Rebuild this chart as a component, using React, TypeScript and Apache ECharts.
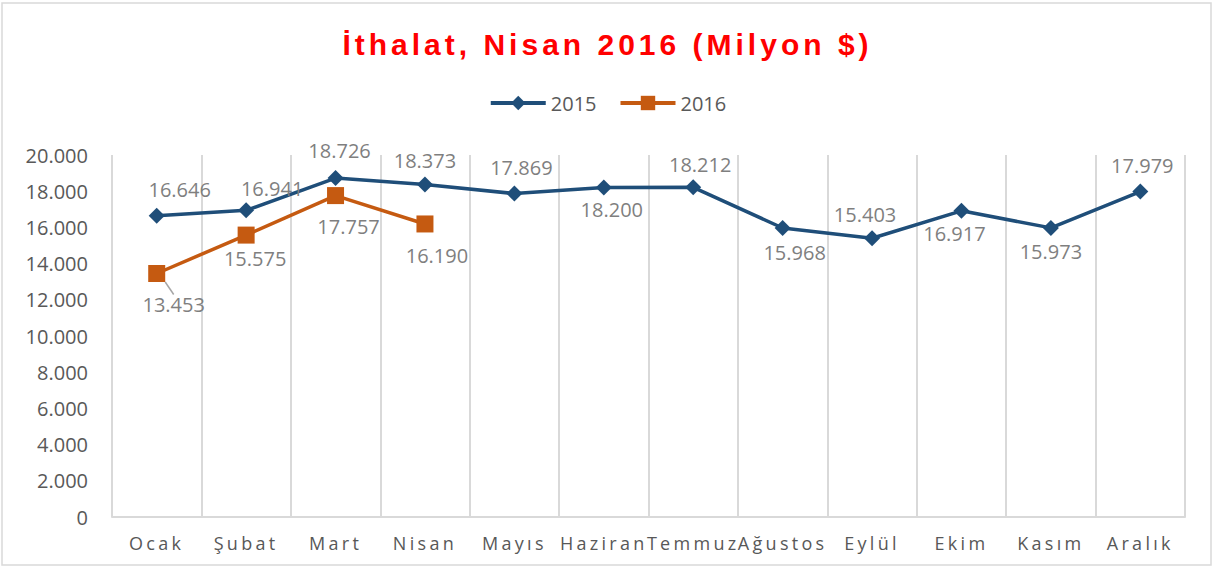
import React, { useEffect, useRef } from 'react';
import * as echarts from 'echarts';

const titleText = 'İthalat, Nisan 2016 (Milyon $)';
const categories = ['Ocak', 'Şubat', 'Mart', 'Nisan', 'Mayıs', 'Haziran', 'Temmuz', 'Ağustos', 'Eylül', 'Ekim', 'Kasım', 'Aralık'];
const seriesNames = ['2015', '2016'];
const values2015 = [16646, 16941, 18726, 18373, 17869, 18200, 18212, 15968, 15403, 16917, 15973, 17979];
const values2016 = [13453, 15575, 17757, 16190];
const yMin = 0;
const yMax = 20000;
const yInterval = 2000;

// label placement (style only)
const labelOffsets2015 = [[23, -26], [26, -22], [4, -28], [0, -24], [7, -26], [8, 22], [7, -23], [12, 25], [-7, -24], [-7, 23], [0, 24], [2, -26]];
const labelOffsets2016 = [[17, 31], [9, 23], [13, 31], [12, 32]];

const fmt = (v: number) => String(Math.round(v)).replace(/\B(?=(\d{3})+(?!\d))/g, '.');

const AXIS_COLOR = '#585858';
const LABEL_COLOR = '#7f7f7f';
const TITLE_COLOR = '#ff0000';
const FONT = '"Open Sans", sans-serif';

export default function App() {
  const ref = useRef<HTMLDivElement>(null);
  useEffect(() => {
    if (!ref.current) return;
    const chart = echarts.init(ref.current, undefined, { renderer: 'svg' });
    const labelCommon = {
      show: true,
      position: 'inside',
      color: LABEL_COLOR,
      fontSize: 20,
      fontFamily: FONT,
      formatter: (p: any) => fmt(p.value),
    };
    chart.setOption({
      animation: false,
      backgroundColor: '#ffffff',
      title: {
        text: titleText,
        left: 'center',
        top: 29,
        padding: 0,
        textStyle: { color: TITLE_COLOR, fontSize: 30, fontWeight: 'bold', fontFamily: '"Liberation Sans", Arial, sans-serif' },
      },
      graphic: [
        {
          type: 'rect',
          shape: { x: 2, y: 3, width: 1209, height: 562 },
          style: { fill: 'none', stroke: '#d9d9d9', lineWidth: 1.5 },
          silent: true,
          z: -10,
        },
      ],
      legend: {
        top: 88,
        left: 'center',
        itemWidth: 55,
        itemHeight: 18,
        itemGap: 22,
        lineStyle: { width: 4 },
        textStyle: { color: '#595959', fontSize: 20, fontFamily: FONT },
        data: seriesNames,
      },
      grid: { left: 112, right: 30, top: 155, bottom: 51, containLabel: false },
      xAxis: {
        type: 'category',
        data: categories,
        boundaryGap: true,
        axisTick: { show: false },
        axisLine: { show: true, lineStyle: { color: '#d9d9d9', width: 2 } },
        splitLine: { show: true, lineStyle: { color: '#d9d9d9', width: 2 } },
        axisLabel: { interval: 0, color: AXIS_COLOR, fontSize: 18, fontFamily: FONT, margin: 17 },
      },
      yAxis: {
        type: 'value',
        min: yMin,
        max: yMax,
        interval: yInterval,
        axisLine: { show: false },
        axisTick: { show: false },
        splitLine: { show: false },
        axisLabel: { color: '#595959', fontSize: 20, fontFamily: FONT, margin: 24, formatter: (v: number) => fmt(v) },
      },
      series: [
        {
          name: seriesNames[0],
          type: 'line',
          data: values2015.map((v, i) => ({ value: v, label: { offset: labelOffsets2015[i] } })),
          symbol: 'diamond',
          symbolSize: 16,
          itemStyle: { color: '#1f4e79' },
          lineStyle: { color: '#1f4e79', width: 3.5 },
          label: labelCommon,
          z: 3,
        },
        {
          name: seriesNames[1],
          type: 'line',
          data: values2016.map((v, i) => ({
            value: v,
            labelLine: { show: i === 0, lineStyle: { color: '#a6a6a6', width: 1.5 } },
          })),
          labelLayout: (params: any) => {
            const o = labelOffsets2016[params.dataIndex] || [0, 0];
            return { dx: o[0], dy: o[1] };
          },
          symbol: 'rect',
          symbolSize: 17,
          itemStyle: { color: '#c55a11' },
          lineStyle: { color: '#c55a11', width: 3.5 },
          label: labelCommon,
          z: 2,
        },
      ],
    });
    return () => chart.dispose();
  }, []);
  return (
    <>
      <style>{`text[fill="${AXIS_COLOR}"]{letter-spacing:3.3px}text[fill="${TITLE_COLOR}"]{letter-spacing:4px}`}</style>
      <div ref={ref} style={{ position: 'fixed', left: 0, top: 0, width: 1215, height: 568 }} />
    </>
  );
}
